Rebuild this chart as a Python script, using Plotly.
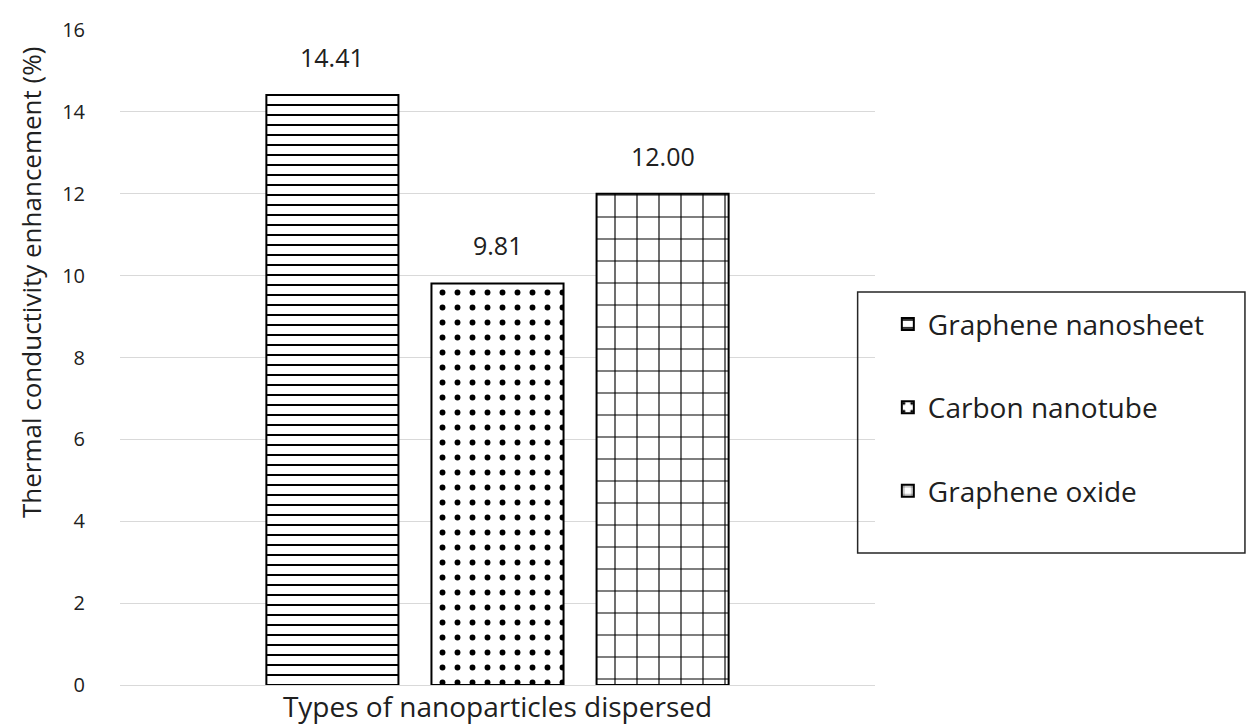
import plotly.graph_objects as go

# Thermal conductivity enhancement by nanoparticle type
category = ["Types of nanoparticles dispersed"]
series_names = ["Graphene nanosheet", "Carbon nanotube", "Graphene oxide"]
enhancement = [14.41, 9.81, 12.00]
patterns = ["-", ".", "+"]
pattern_sizes = [10, 15, 22]
pattern_solidity = [0.2, 0.12, 0.1]

y_ticks = [0, 2, 4, 6, 8, 10, 12, 14, 16]
y_title = "Thermal conductivity enhancement (%)"

FONT = "Open Sans, Liberation Sans, sans-serif"
TEXT = "#202020"

fig = go.Figure()
for name, val, pat, psz, sol in zip(series_names, enhancement, patterns,
                                    pattern_sizes, pattern_solidity):
    fig.add_trace(go.Bar(
        x=category, y=[val], name=name, legendgroup=name,
        offsetgroup=name,
        marker=dict(color="white",
                    line=dict(color="black", width=2),
                    pattern=dict(shape=pat, size=psz, solidity=sol,
                                 fgcolor="black", fgopacity=1,
                                 bgcolor="white", fillmode="overlay")),
    ))

fig.update_layout(
    width=1246, height=727,
    margin=dict(l=120, r=371, t=30, b=42),
    paper_bgcolor="white", plot_bgcolor="white",
    barmode="group", bargap=0.344, bargroupgap=0.2,
    font=dict(family=FONT, color=TEXT),
    showlegend=True,
    legend=dict(x=1.017, xanchor="left", y=0.589, yanchor="top",
                font=dict(size=28, color=TEXT, family=FONT),
                tracegroupgap=44, bgcolor="rgba(0,0,0,0)",
                itemwidth=30),
    yaxis=dict(range=[0, 16], tickvals=y_ticks, showgrid=True,
               gridcolor="#d9d9d9", gridwidth=1, zeroline=False,
               showline=False, ticks="", ticklabelstandoff=34,
               automargin=False,
               tickfont=dict(size=20, color=TEXT, family=FONT)),
    xaxis=dict(showline=True, linecolor="#d9d9d9", linewidth=1,
               ticks="", automargin=False, ticklabelstandoff=-3,
               tickfont=dict(size=28, color=TEXT, family=FONT)),
)

# Value labels above each bar (bars in a group sit at offsets -1, 0, +1 slot)
n = len(series_names)
for i, (name, val) in enumerate(zip(series_names, enhancement)):
    fig.add_annotation(x=0, y=val, xref="x", yref="y",
                       text=f"{val:.2f}", showarrow=False,
                       xshift=(i - (n - 1) / 2) * 165.5, yshift=38,
                       yanchor="middle",
                       font=dict(size=25, color=TEXT, family=FONT))

# Y axis title
fig.add_annotation(x=-0.118, y=0.615, xref="paper", yref="paper",
                   text=y_title, textangle=-90, showarrow=False,
                   xanchor="center", yanchor="middle",
                   font=dict(size=26, color=TEXT, family=FONT))

# Legend frame
fig.add_shape(type="rect", xref="paper", yref="paper",
              x0=0.977, x1=1.49, y0=0.2015, y1=0.6,
              line=dict(color="#262626", width=1.5), fillcolor="rgba(0,0,0,0)")

fig.write_html("out.html")
